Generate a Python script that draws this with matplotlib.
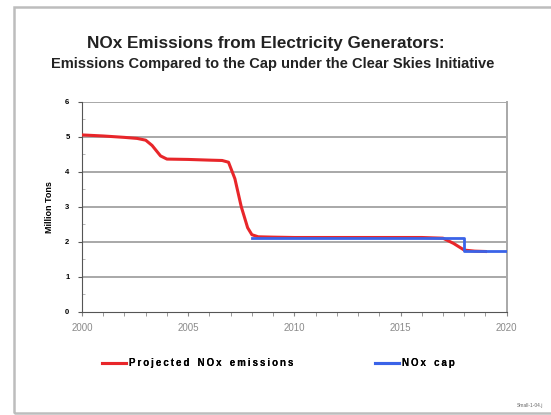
import matplotlib
matplotlib.use("Agg")
import matplotlib.pyplot as plt
from matplotlib.lines import Line2D
from matplotlib.patches import Rectangle
from matplotlib.ticker import MultipleLocator

plt.rcParams['font.family'] = ['Liberation Sans', 'DejaVu Sans']

# Data
emis_years = [2000, 2001, 2002, 2002.6, 2003, 2003.3, 2003.7, 2004, 2005, 2006, 2006.6,
              2006.9, 2007.2, 2007.5, 2007.8, 2008, 2008.3, 2009, 2010, 2012, 2014,
              2016, 2017, 2017.5, 2018, 2018.5, 2019]
emis_values = [5.05, 5.02, 4.98, 4.95, 4.9, 4.75, 4.45, 4.36, 4.35, 4.33, 4.32,
               4.27, 3.8, 3.0, 2.4, 2.2, 2.14, 2.13, 2.12, 2.12, 2.12,
               2.12, 2.1, 1.95, 1.76, 1.73, 1.72]
cap_years = [2008, 2018, 2018, 2020]
cap_values = [2.1, 2.1, 1.72, 1.72]
x_ticks = [2000, 2005, 2010, 2015, 2020]
y_ticks = [0, 1, 2, 3, 4, 5, 6]
legend_labels = ['Projected NOx emissions', 'NOx cap']


def spaced(s):
    return '   '.join('\u2009'.join(w) for w in s.split(' '))


fig = plt.figure(figsize=(5.51, 4.15), dpi=100)
fig.patches.append(Rectangle((0.025, 0.005), 1.0, 0.978, transform=fig.transFigure,
                             fill=False, edgecolor='#bdbdbd', linewidth=1.8))

ax = fig.add_axes([0.1488, 0.2489, 0.7708, 0.5061])
ax.set_xlim(2000, 2020)
ax.set_ylim(0, 6)
for y in y_ticks[1:]:
    ax.axhline(y, color='#a8a8a8', linewidth=1.4, zorder=1)

ax.plot(emis_years, emis_values, color='#e8262a', linewidth=2.2, zorder=3,
        solid_joinstyle='round')
ax.plot(cap_years, cap_values, color='#3a63e8', linewidth=2.0, zorder=4)

ax.set_xticks(x_ticks)
ax.xaxis.set_minor_locator(MultipleLocator(1))
ax.set_yticks(y_ticks)
ax.yaxis.set_minor_locator(MultipleLocator(0.5))
ax.tick_params(axis='x', which='both', direction='out', length=3, color='#888888',
               labelsize=7, labelcolor='#8a8a8a', pad=5)
ax.tick_params(axis='y', which='major', direction='out', length=3, color='#555555',
               labelsize=5.5, pad=6)
ax.tick_params(axis='y', which='minor', direction='in', length=2, color='#aaaaaa')
for lab in ax.get_yticklabels():
    lab.set_fontweight('bold')

ax.spines['top'].set_visible(False)
ax.spines['right'].set_color('#a8a8a8')
ax.spines['right'].set_linewidth(1.4)
ax.spines['left'].set_color('#555555')
ax.spines['bottom'].set_color('#555555')

ax.set_ylabel('Million Tons', fontsize=6.5, fontweight='bold', labelpad=8)

fig.text(0.483, 0.896, 'NOx Emissions from Electricity Generators:', ha='center', va='center',
         fontsize=12.3, fontweight='bold', color='#222222')
fig.text(0.494, 0.845, 'Emissions Compared to the Cap under the Clear Skies Initiative',
         ha='center', va='center', fontsize=10.5, fontweight='bold', color='#222222')

colors = ['#e8262a', '#3a63e8']
anchors = [102 / 551, 375 / 551]
for lbl, col, xa in zip(legend_labels, colors, anchors):
    leg = fig.legend([Line2D([], [], color=col, linewidth=2.2)], [spaced(lbl)],
                     loc='center left', bbox_to_anchor=(xa, 0.125), frameon=False,
                     borderpad=0, borderaxespad=0, handlelength=2.5, handletextpad=0.25,
                     prop={'size': 7, 'weight': 'bold'})
    fig.add_artist(leg)

fig.text(0.985, 0.022, 'Small-1-04.j', ha='right', va='center', fontsize=3.5, color='#666666')

fig.savefig('out.png', dpi=100)
